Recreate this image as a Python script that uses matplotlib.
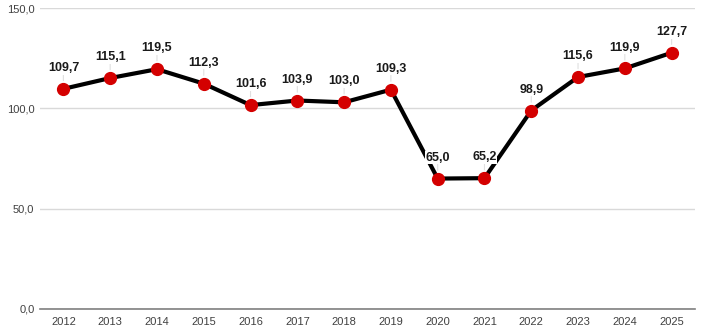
import matplotlib.pyplot as plt

plt.rcParams['font.family'] = ['Liberation Sans', 'DejaVu Sans']

years = [2012, 2013, 2014, 2015, 2016, 2017, 2018, 2019, 2020, 2021, 2022, 2023, 2024, 2025]
values = [109.7, 115.1, 119.5, 112.3, 101.6, 103.9, 103.0, 109.3, 65.0, 65.2, 98.9, 115.6, 119.9, 127.7]

fig = plt.figure(figsize=(7.03, 3.32), dpi=100)
ax = fig.add_axes([40 / 703, 1 - 309 / 332, 655 / 703, 301 / 332])

ax.plot(years, values, color='black', lw=3, zorder=3,
        marker='o', markersize=8.5, markerfacecolor='#d40000', markeredgecolor='#d40000')

for x, y in zip(years, values):
    ax.annotate(('%.1f' % y).replace('.', ','), xy=(x, y), xytext=(0, 15),
                textcoords='offset points', ha='center', va='center',
                fontsize=9, fontweight='bold', color='#1a1a1a', zorder=4,
                bbox=dict(boxstyle='square,pad=0.05', fc='white', ec='none'),
                arrowprops=dict(arrowstyle='-', color='#e0e0e0', lw=0.8, shrinkA=0, shrinkB=6))

ax.set_xlim(2011.5, 2025.5)
ax.set_ylim(0, 150)
ax.set_xticks(years)
ax.set_yticks([0, 50, 100, 150])
ax.set_yticklabels(['0,0', '50,0', '100,0', '150,0'])
ax.grid(axis='y', color='#d9d9d9', lw=1)
ax.set_axisbelow(True)
for s in ['top', 'right', 'left']:
    ax.spines[s].set_visible(False)
ax.spines['bottom'].set_color('#808080')
ax.spines['bottom'].set_linewidth(1.2)
ax.tick_params(axis='both', length=0, labelsize=8, colors='#404040')
ax.tick_params(axis='x', pad=6)
ax.tick_params(axis='y', pad=4)

fig.savefig('out.png', dpi=100)
